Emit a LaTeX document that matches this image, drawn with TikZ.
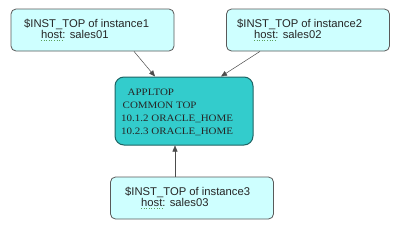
\documentclass[tikz,border=0pt]{standalone}
\usepackage{fontspec}
\setmainfont{Liberation Serif}
\newfontfamily\arialf{Liberation Sans}
\newfontfamily\timesf[FakeStretch=1.12]{Liberation Serif}
\usetikzlibrary{arrows.meta}
\definecolor{lightcy}{RGB}{206,255,255}
\definecolor{teal1}{RGB}{51,204,204}
\definecolor{tealdark}{RGB}{30,100,100}
\definecolor{spellgreen}{RGB}{90,160,90}
\tikzset{
  hostbox/.style={draw=gray!70!black, fill=lightcy, rounded corners=5pt, line width=0.8pt,
    minimum width=163pt, minimum height=42pt, inner sep=0pt},
  mainbox/.style={draw=tealdark, fill=teal1, rounded corners=9pt, line width=1pt,
    minimum width=138pt, minimum height=68pt, inner sep=0pt},
  lbl/.style={font=\arialf\fontsize{11.25}{13}\selectfont, inner sep=0pt, anchor=base west, text=black!85},
  mlbl/.style={font=\timesf\fontsize{9.8}{11}\selectfont, inner sep=0pt, anchor=base west, text=black!85},
  conn/.style={draw=black!70, line width=0.5pt, -{Triangle[length=6pt,width=5pt]}},
  spell/.style={draw=spellgreen, dotted, line width=0.6pt}
}
\begin{document}
\begin{tikzpicture}[x=1pt,y=-1pt]
\useasboundingbox[fill=white] (0,0) rectangle (400,228);
% boxes
\node[hostbox] (b1) at (92.5,30) {};
\node[hostbox] (b2) at (308,30) {};
\node[hostbox] (b3) at (192,198) {};
\node[mainbox] (m) at (184,111) {};
% texts
\node[lbl] (t1) at (24,27) {\$INST\_TOP of instance1};
\node[lbl] (h1) at (41,38.5) {host: sales01};
\node[lbl] (t2) at (237,27) {\$INST\_TOP of instance2};
\node[lbl] (h2) at (254,38.5) {host: sales02};
\node[lbl] (t3) at (125,195) {\$INST\_TOP of instance3};
\node[lbl] (h3) at (141,206) {host: sales03};
\draw[spell] ([yshift=-2pt]h1.base west) -- ++(23,0);
\draw[spell] ([yshift=-2pt]h2.base west) -- ++(23,0);
\draw[spell] ([yshift=-2pt]h3.base west) -- ++(23,0);
\node[mlbl] (m1) at (127.5,95) {APPLTOP};
\node[mlbl] (m2) at (122.5,108) {COMMON TOP};
\node[mlbl] (m3) at (121,121) {10.1.2 ORACLE\_HOME};
\node[mlbl] (m4) at (121,134) {10.2.3 ORACLE\_HOME};
% connectors
\draw[conn] ([xshift=41.5pt]b1.south) -- ([xshift=-29pt]m.north);
\draw[conn] ([xshift=-48pt]b2.south) -- ([xshift=37pt]m.north);
\draw[conn] ([xshift=-17pt]b3.north) -- ([xshift=-9pt]m.south);
\end{tikzpicture}
\end{document}
